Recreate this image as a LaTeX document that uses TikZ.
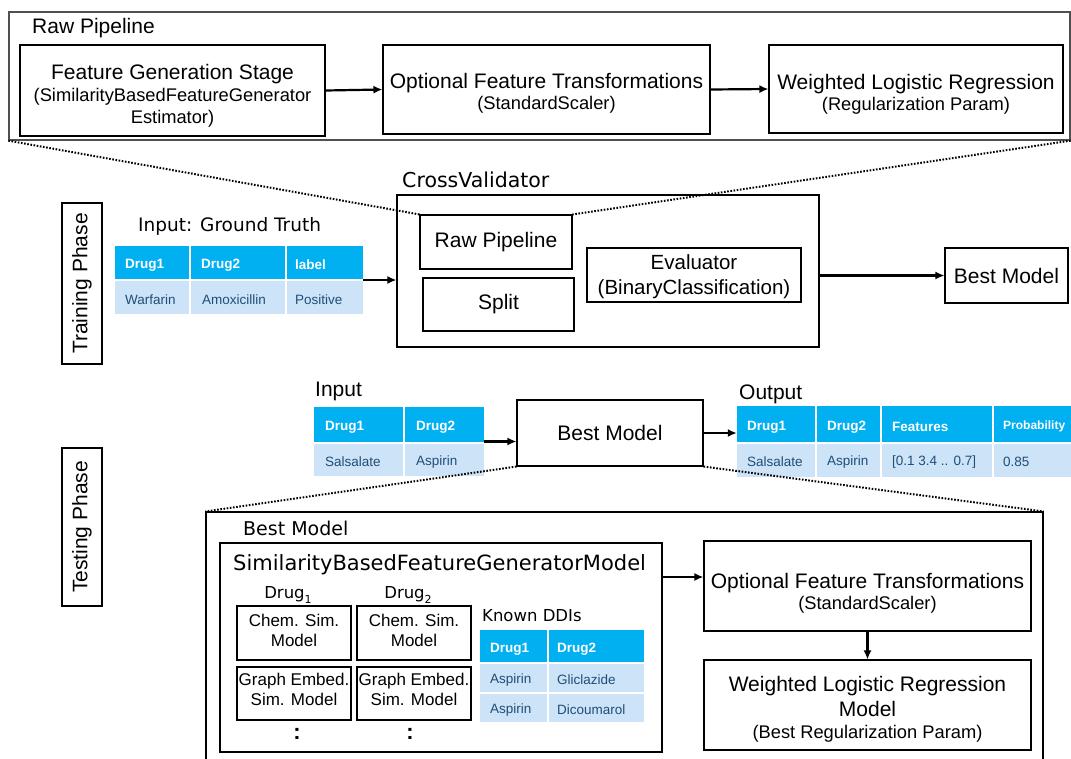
\documentclass[tikz,border=0pt]{standalone}
\usepackage{fontspec}
\setmainfont{Liberation Sans}
\newfontfamily\dvfont{DejaVu Sans}
\usetikzlibrary{arrows.meta}
\definecolor{hdr}{RGB}{0,176,240}
\definecolor{bdy}{RGB}{205,227,247}
\definecolor{celltxt}{RGB}{31,78,121}
\definecolor{frameg}{RGB}{80,80,80}
\newcommand{\smalltxt}[1]{{\fontsize{18.3}{22}\selectfont #1}}
\newcommand{\drugsub}[1]{{\dvfont\fontsize{16.5}{20}\selectfont Drug\raisebox{-5pt}{\fontsize{11}{13}\selectfont #1}}}
\tikzset{
 box/.style={draw=black, line width=1.1pt, inner sep=2pt, align=center, font=\fontsize{21}{25}\selectfont},
 boxtext/.style={inner sep=0pt, align=center, font=\fontsize{21}{25}\selectfont},
 lbl/.style={anchor=west, inner sep=0pt, font=\fontsize{21}{24}\selectfont},
 dvlbl/.style={anchor=west, inner sep=0pt},
 arr/.style={line width=2.2pt, -{Latex[length=9pt,width=8pt]}},
 zoomline/.style={line width=2pt, dash pattern=on 1.6pt off 1.6pt},
 hcell/.style={anchor=west, inner sep=0pt, text=white, font=\fontsize{13.5}{16}\selectfont\bfseries},
 bcell/.style={anchor=west, inner sep=0pt, text=celltxt, font=\fontsize{13.5}{16}\selectfont},
 sep/.style={white, line width=1.5pt},
 anchorbox/.style={inner sep=0pt, draw=none},
}
\begin{document}
\begin{tikzpicture}[x=1pt,y=-1pt]
\useasboundingbox (0,0) rectangle (1071,758);
\fill[white] (0,0) rectangle (1071,758);

% ===== Top: Raw Pipeline =====
\node[draw=frameg, line width=1.3pt, minimum width=1061, minimum height=128, inner sep=0pt] (rawouter) at (539.5,76) {};
\node[lbl] (rawlbl) at (32,28) {Raw Pipeline};
\node[box, minimum width=305, minimum height=91] (fg) at (172.5,90.5) {};
\node[boxtext] (fgt) at ([yshift=-5pt]fg.center)
  {Feature Generation Stage\\[-3pt]\smalltxt{(SimilarityBasedFeatureGenerator}\\[-3pt]\smalltxt{Estimator)}};
\node[box, minimum width=327, minimum height=89] (opt1) at (546.5,89.5) {};
\node[boxtext] (opt1t) at ([yshift=-4pt]opt1.center)
  {Optional Feature Transformations\\[-4pt]\smalltxt{(StandardScaler)}};
\node[box, minimum width=294, minimum height=88] (wlr1) at (916,89) {};
\node[boxtext] (wlr1t) at ([yshift=-5pt]wlr1.center)
  {Weighted Logistic Regression\\[-4pt]\smalltxt{(Regularization Param)}};
\draw[arr] (fg.east) -- (opt1.west);
\draw[arr] (opt1.east) -- (wlr1.west);

% ===== Training phase =====
\node[box, rotate=90, minimum width=161, minimum height=40, inner sep=0pt] (train) at (82,283.5) {Training Phase};

\node[dvlbl, font=\dvfont\fontsize{18.5}{22}\selectfont] (gtlbl) at (138,226) {Input: Ground Truth};
% ground truth table
\fill[hdr] (115,246) rectangle (363,280);
\fill[bdy] (115,280) rectangle (363,314);
\draw[sep] (115,280) -- (363,280);
\draw[sep] (190,246) -- (190,314);
\draw[sep] (286,246) -- (286,314);
\node[anchorbox, minimum width=248, minimum height=68] (gt) at (239,280) {};
\node[hcell] (gth1) at (125,265) {Drug1};
\node[hcell] (gth2) at (201,265) {Drug2};
\node[hcell] (gth3) at (295,265) {label};
\node[bcell] (gtb1) at (125,300) {Warfarin};
\node[bcell] (gtb2) at (202,300) {Amoxicillin};
\node[bcell] (gtb3) at (295,300) {Positive};

\node[dvlbl, font=\dvfont\fontsize{20.5}{24}\selectfont] (cvlbl) at (402,180) {CrossValidator};
\node[box, minimum width=422, minimum height=152] (cv) at (608,271) {};
\node[box, minimum width=152, minimum height=54] (rp) at (496,242) {Raw Pipeline};
\node[box, minimum width=151, minimum height=53] (split) at (498.5,304.5) {Split};
\node[box, minimum width=214, minimum height=54] (eval) at (694,275) {};
\node[boxtext, font=\fontsize{20.5}{25}\selectfont] (evalt) at ([yshift=-2pt]eval.center) {Evaluator\\(BinaryClassification)};
\node[box, minimum width=123, minimum height=55] (bm1) at (1006.5,275.5) {Best Model};

\draw[arr] (gt.east) -- (gt.east -| cv.west);
\draw[arr] (bm1.west -| cv.east) -- (bm1.west);

\draw[zoomline] (rawouter.south west) -- (rp.north west);
\draw[zoomline] (rawouter.south east) -- (rp.north east);

% ===== Testing phase =====
\node[box, rotate=90, minimum width=158, minimum height=40, inner sep=0pt] (test) at (82,527) {Testing Phase};

\node[lbl] (inlbl) at (315,391) {Input};
\fill[hdr] (314,407) rectangle (484,443);
\fill[bdy] (314,443) rectangle (484,476);
\draw[sep] (314,443) -- (484,443);
\draw[sep] (404,407) -- (404,476);
\node[anchorbox, minimum width=170, minimum height=69] (it) at (399,441.5) {};
\node[hcell] (ith1) at (325,427) {Drug1};
\node[hcell] (ith2) at (416,427) {Drug2};
\node[bcell] (itb1) at (325,462) {Salsalate};
\node[bcell] (itb2) at (416,462) {Aspirin};

\node[box, minimum width=186, minimum height=66] (bm2) at (610,433) {Best Model};

\node[lbl] (outlbl) at (739,394) {Output};
\fill[hdr] (737,406) rectangle (1071,443);
\fill[bdy] (737,443) rectangle (1071,477);
\draw[sep] (737,443) -- (1071,443);
\draw[sep] (816,406) -- (816,477);
\draw[sep] (881,406) -- (881,477);
\draw[sep] (993,406) -- (993,477);
\node[anchorbox, minimum width=334, minimum height=71] (ot) at (904,441.5) {};
\node[hcell] (oth1) at (747,427) {Drug1};
\node[hcell] (oth2) at (827,427) {Drug2};
\node[hcell] (oth3) at (892,427) {Features};
\node[hcell, font=\fontsize{12}{14}\selectfont\bfseries] (oth4) at (1003,426) {Probability};
\node[bcell] (otb1) at (747,462) {Salsalate};
\node[bcell] (otb2) at (827,462) {Aspirin};
\node[bcell] (otb3) at (892,462) {[0.1 3.4 .. 0.7]};
\node[bcell] (otb4) at (1003,462) {0.85};

\draw[arr] (it.east) -- (it.east -| bm2.west);
\draw[arr] (bm2.east) -- (bm2.east -| ot.west);

% big zoomed box
\node[draw=black, line width=1.1pt, minimum width=837, minimum height=250, inner sep=0pt] (big) at (624.5,637) {};
\draw[zoomline] (bm2.south west) -- (big.north west);
\draw[zoomline] (bm2.south east) -- (big.north east);

\node[dvlbl, font=\dvfont\fontsize{19}{22}\selectfont] (bmlbl) at (243,528) {Best Model};
\node[box, minimum width=442, minimum height=209] (sim) at (441,647.5) {};
\node[dvlbl, font=\dvfont\fontsize{21}{24}\selectfont] (simlbl) at (233,565) {SimilarityBasedFeatureGeneratorModel};

\node[inner sep=0pt] (d1) at (288,595) {\drugsub{1}};
\node[inner sep=0pt] (d2) at (408,595) {\drugsub{2}};
\node[box, minimum width=114, minimum height=54] (c1) at (294,633) {};
\node[box, minimum width=114, minimum height=54] (c2) at (414,633) {};
\node[box, minimum width=114, minimum height=53] (g1) at (294,693.5) {};
\node[box, minimum width=114, minimum height=53] (g2) at (414,693.5) {};
\node[boxtext, font=\fontsize{17}{20}\selectfont] (c1t) at ([yshift=3pt]c1.center) {Chem. Sim.\\Model};
\node[boxtext, font=\fontsize{17}{20}\selectfont] (c2t) at ([yshift=3pt]c2.center) {Chem. Sim.\\Model};
\node[boxtext, font=\fontsize{17}{20}\selectfont] (g1t) at ([yshift=4pt]g1.center) {Graph Embed.\\Sim. Model};
\node[boxtext, font=\fontsize{17}{20}\selectfont] (g2t) at ([yshift=4pt]g2.center) {Graph Embed.\\Sim. Model};
\node[inner sep=0pt, font=\fontsize{22}{24}\selectfont\bfseries] (dots1) at (297,734) {:};
\node[inner sep=0pt, font=\fontsize{22}{24}\selectfont\bfseries] (dots2) at (410,734) {:};

\node[dvlbl, font=\dvfont\fontsize{16.5}{20}\selectfont] (ddilbl) at (482,616) {Known DDIs};
\fill[hdr] (480,630) rectangle (644,663);
\fill[bdy] (480,663) rectangle (644,722);
\draw[sep] (480,663) -- (644,663);
\draw[sep] (480,693) -- (644,693);
\draw[sep] (548,630) -- (548,722);
\node[hcell] (dh1) at (490,649) {Drug1};
\node[hcell] (dh2) at (557,649) {Drug2};
\node[bcell] (db1) at (490,680) {Aspirin};
\node[bcell] (db2) at (557,680) {Gliclazide};
\node[bcell] (db3) at (490,710) {Aspirin};
\node[bcell] (db4) at (557,710) {Dicoumarol};

\node[box, minimum width=327, minimum height=90] (opt2) at (867.5,586) {};
\node[boxtext] (opt2t) at ([yshift=-7pt]opt2.center)
  {Optional Feature Transformations\\[-4pt]\smalltxt{(StandardScaler)}};
\node[box, minimum width=327, minimum height=90] (wlr2) at (867.5,705) {};
\node[boxtext] (wlr2t) at ([yshift=-4pt]wlr2.center)
  {Weighted Logistic Regression\\Model\\[-3pt]\smalltxt{(Best Regularization Param)}};

\draw[arr] ([yshift=9pt]opt2.west -| sim.east) -- ([yshift=9pt]opt2.west);
\draw[arr] (opt2.south) -- (wlr2.north);
\end{tikzpicture}
\end{document}
